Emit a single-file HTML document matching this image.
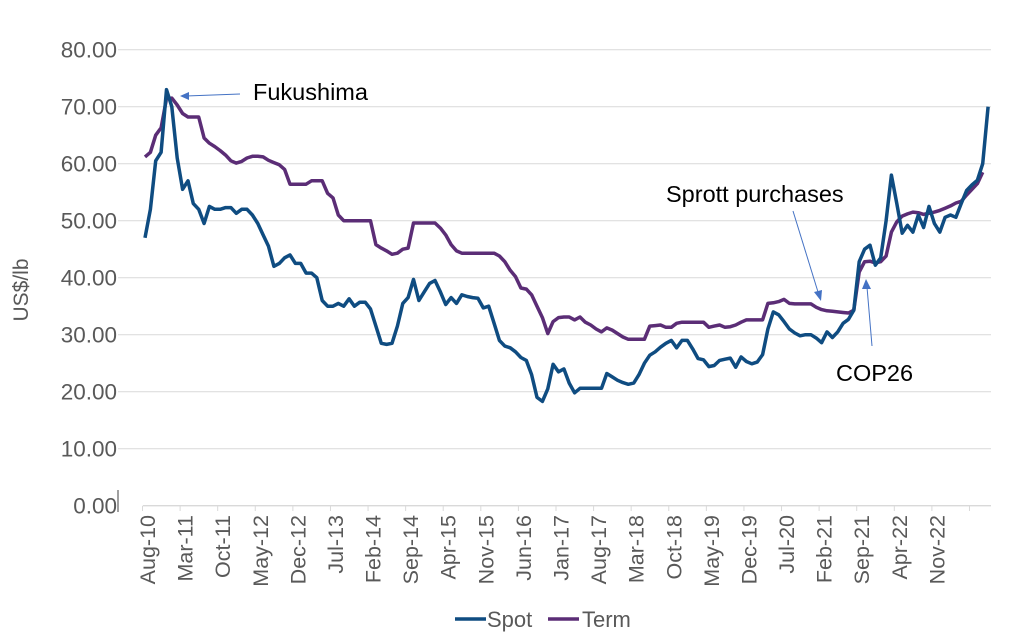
<!DOCTYPE html>
<html><head><meta charset="utf-8"><style>
body{margin:0;background:#fff;}
svg{display:block;font-family:"Liberation Sans",Arial,sans-serif;}
</style></head><body>
<svg id="chart" width="1024" height="644" viewBox="0 0 1024 644" xmlns="http://www.w3.org/2000/svg">
<g id="grid"></g>
<g id="yticks"></g>
<g id="xticks"></g>
<g id="series"></g>
<text transform="translate(28,290) rotate(-90)" text-anchor="middle" font-size="21" fill="#595959">US$/lb</text>
<g>
<text x="253" y="100" font-size="23.5" fill="#000">Fukushima</text>
<line x1="240" y1="94" x2="186" y2="96" stroke="#4472c4" stroke-width="1"/>
<polygon points="180,96 189,92 189,100" fill="#4472c4"/>
</g>
<g>
<text x="666" y="202" font-size="23.5" fill="#000">Sprott purchases</text>
<line x1="793" y1="211" x2="818" y2="292" stroke="#4472c4" stroke-width="1"/>
<polygon points="821,301 814,292 822,290" fill="#4472c4"/>
</g>
<g>
<text x="836" y="381" font-size="23.5" fill="#000">COP26</text>
<line x1="872" y1="346" x2="867" y2="287" stroke="#4472c4" stroke-width="1"/>
<polygon points="866,279 862,289 871,289" fill="#4472c4"/>
</g>
<g>
<g>
<line x1="455" y1="619" x2="486" y2="619" stroke="#0f4c81" stroke-width="3.5"/>
<text x="487" y="627" font-size="22" fill="#595959">Spot</text>
</g>
<g>
<line x1="548" y1="619" x2="579" y2="619" stroke="#5b2d76" stroke-width="3.5"/>
<text x="582" y="627" font-size="22" fill="#595959">Term</text>
</g>
</g>
</svg>
<script>
const spotValues=[47,52,60.5,62,73,70,61,55.5,57,53,52,49.5,52.5,52,52,52.3,52.3,51.3,52,52,51,49.5,47.5,45.5,42,42.5,43.5,44,42.5,42.5,40.8,40.8,40,36,35,35,35.5,35,36.3,35,35.7,35.7,34.5,31.5,28.5,28.3,28.5,31.5,35.5,36.5,39.7,36,37.5,39,39.5,37.5,35.3,36.5,35.5,37,36.7,36.5,36.4,34.7,35,32,29,28,27.7,27,26,25.5,23,19,18.3,20.5,24.8,23.5,24,21.5,19.8,20.6,20.6,20.6,20.6,20.6,23.2,22.6,22,21.6,21.3,21.5,23,25,26.4,27,27.8,28.5,29,27.7,29,29,27.5,25.8,25.6,24.4,24.6,25.5,25.7,25.9,24.3,26.1,25.3,24.9,25.2,26.5,31,34,33.5,32.3,31,30.3,29.8,30,30,29.4,28.6,30.5,29.5,30.5,32,32.7,34.3,42.8,45,45.7,42.2,43.5,50,58,53,47.8,49.2,48,51,48.8,52.5,49.5,48,50.6,51,50.6,53,55.3,56.3,57.1,60,70];
const termValues=[61.2,62,65,66.3,71.4,71.5,70.3,68.8,68.2,68.2,68.2,64.5,63.6,63,62.3,61.5,60.5,60.1,60.4,61,61.3,61.3,61.2,60.6,60.2,59.8,59,56.4,56.4,56.4,56.4,57,57,57,54.8,54,51,50,50,50,50,50,50,45.8,45.2,44.7,44.1,44.3,45,45.2,49.6,49.6,49.6,49.6,49.6,48.7,47.5,45.8,44.7,44.3,44.3,44.3,44.3,44.3,44.3,44.3,43.8,42.8,41.3,40.2,38.2,38,37,35,33,30.2,32.3,33,33.1,33.1,32.6,33.1,32.2,31.7,31,30.5,31.2,30.8,30.2,29.6,29.2,29.2,29.2,29.2,31.5,31.6,31.7,31.3,31.3,32,32.2,32.2,32.2,32.2,32.2,31.3,31.5,31.7,31.3,31.4,31.7,32.2,32.6,32.6,32.6,32.6,35.5,35.6,35.8,36.2,35.5,35.4,35.4,35.4,35.4,34.8,34.4,34.2,34.1,34,33.9,33.8,34.3,41,42.8,42.9,42.6,42.8,43.8,48,49.8,50.8,51.2,51.5,51.4,51.1,51.3,51.5,51.8,52.2,52.6,53.1,53.4,54.5,55.5,56.5,58.5];
const xTickLabels=["Aug-10","Mar-11","Oct-11","May-12","Dec-12","Jul-13","Feb-14","Sep-14","Apr-15","Nov-15","Jun-16","Jan-17","Aug-17","Mar-18","Oct-18","May-19","Dec-19","Jul-20","Feb-21","Sep-21","Apr-22","Nov-22"];
const yTickValues=[0,10,20,30,40,50,60,70,80];

const NS="http://www.w3.org/2000/svg";
const step=5.37;
function xScale(i){return 145+i*step;}
function yScale(v){return 505.7-v*5.7;}
function mk(tag,attrs,parent){const e=document.createElementNS(NS,tag);for(const k in attrs)e.setAttribute(k,attrs[k]);parent.appendChild(e);return e;}

const grid=document.getElementById('grid');
const yt=document.getElementById('yticks');
yTickValues.forEach(v=>{
  if(v>0){
    const g=mk('line',{x1:118,x2:991,y1:yScale(v),y2:yScale(v),stroke:'#d9d9d9','stroke-width':1},grid);
    
    
  }
  const t=mk('text',{x:117,y:yScale(v)+8,'text-anchor':'end','font-size':22.5,fill:'#595959'},yt);
  t.textContent=v.toFixed(2);
  
  
});
const ax=mk('line',{x1:143,x2:991,y1:505.7,y2:505.7,stroke:'#d9d9d9','stroke-width':1.3},grid);


const cut=mk('line',{x1:118,x2:118,y1:490,y2:512,stroke:'#404040','stroke-width':1},grid);



const xt=document.getElementById('xticks');
for(let k=0;k<=xTickLabels.length;k++){
  const x=xScale(k*7)-2.5;
  const tk=mk('line',{x1:x,x2:x,y1:505.7,y2:511,stroke:'#d9d9d9','stroke-width':1},xt);
  
  
  if(k>=xTickLabels.length) break;
  const t=mk('text',{transform:`translate(${x+12.5},515) rotate(-90)`,'text-anchor':'end','font-size':21.5,fill:'#595959'},xt);
  t.textContent=xTickLabels[k];
  
  
}

const sg=document.getElementById('series');
function path(vals){return vals.map((v,i)=>(i?'L':'M')+xScale(i).toFixed(1)+','+yScale(v).toFixed(1)).join(' ');}
const pt=mk('path',{d:path(termValues),fill:'none',stroke:'#5b2d76','stroke-width':3.5,'stroke-linejoin':'round'},sg);


const ps=mk('path',{d:path(spotValues),fill:'none',stroke:'#0f4c81','stroke-width':3.5,'stroke-linejoin':'round'},sg);


</script>
</body></html>
